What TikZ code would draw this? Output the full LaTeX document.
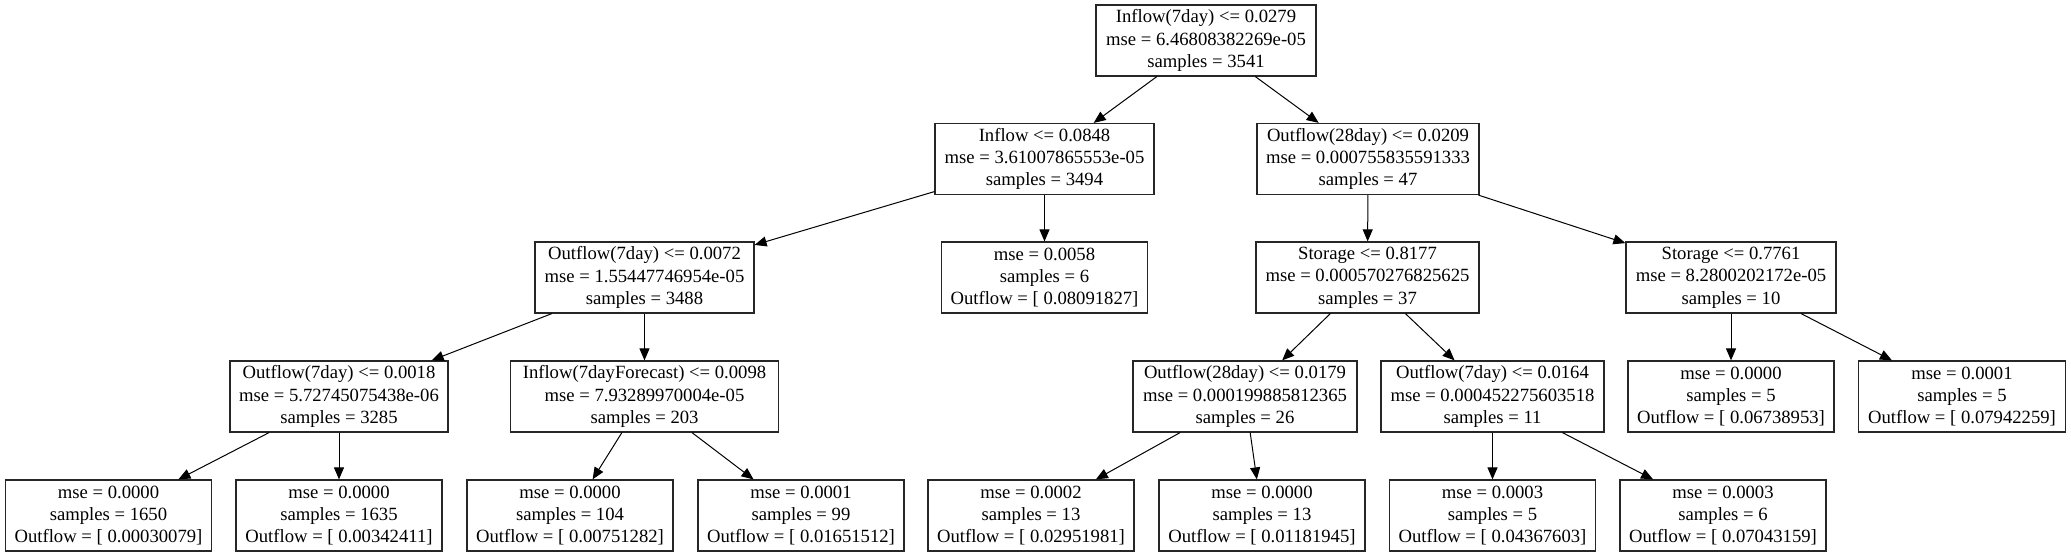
\documentclass[tikz,border=0pt]{standalone}
\usepackage{fontspec}
\setmainfont{Liberation Serif}
\usetikzlibrary{arrows.meta}
\newcommand\tnfont{\fontsize{14}{16.8}\selectfont}
\tikzset{
  tnode/.style={draw=black!85, line width=0.9pt, minimum width=#1*0.75pt, minimum height=53.25pt,
    inner xsep=2pt, inner ysep=0pt, align=center, font=\tnfont},
  tedge/.style={line width=0.75pt, -{Triangle[length=9pt,width=7.5pt]}}
}
\begin{document}
\begin{tikzpicture}[x=0.75pt,y=-0.75pt]
\useasboundingbox (0,0) rectangle (2071,556);
% row 1
\node[tnode=220] (root) at (1206,40.5) {Inflow(7day) <= 0.0279\\mse = 6.46808382269e-05\\samples = 3541};
% row 2
\node[tnode=219] (in) at (1044.5,159) {Inflow <= 0.0848\\mse = 3.61007865553e-05\\samples = 3494};
\node[tnode=222] (oa) at (1368,159) {Outflow(28day) <= 0.0209\\mse = 0.000755835591333\\samples = 47};
% row 3
\node[tnode=219] (o7a) at (644.5,277.5) {Outflow(7day) <= 0.0072\\mse = 1.55447746954e-05\\samples = 3488};
\node[tnode=206] (l58) at (1044.5,277.5) {mse = 0.0058\\samples = 6\\Outflow = [ 0.08091827]};
\node[tnode=223] (s1) at (1367.5,277.5) {Storage <= 0.8177\\mse = 0.000570276825625\\samples = 37};
\node[tnode=210] (s2) at (1731,277.5) {Storage <= 0.7761\\mse = 8.2800202172e-05\\samples = 10};
% row 4
\node[tnode=218] (o7b) at (339,396.5) {Outflow(7day) <= 0.0018\\mse = 5.72745075438e-06\\samples = 3285};
\node[tnode=268] (if) at (644.5,396.5) {Inflow(7dayForecast) <= 0.0098\\mse = 7.93289970004e-05\\samples = 203};
\node[tnode=224] (ob) at (1245,396.5) {Outflow(28day) <= 0.0179\\mse = 0.000199885812365\\samples = 26};
\node[tnode=223] (o7c) at (1492.5,396.5) {Outflow(7day) <= 0.0164\\mse = 0.000452275603518\\samples = 11};
\node[tnode=206] (l5a) at (1731,396.5) {mse = 0.0000\\samples = 5\\Outflow = [ 0.06738953]};
\node[tnode=207] (l5b) at (1962,396.5) {mse = 0.0001\\samples = 5\\Outflow = [ 0.07942259]};
% row 5
\node[tnode=206] (l1) at (108.5,515.5) {mse = 0.0000\\samples = 1650\\Outflow = [ 0.00030079]};
\node[tnode=206] (l2) at (339,515.5) {mse = 0.0000\\samples = 1635\\Outflow = [ 0.00342411]};
\node[tnode=206] (l3) at (570,515.5) {mse = 0.0000\\samples = 104\\Outflow = [ 0.00751282]};
\node[tnode=206] (l4) at (801,515.5) {mse = 0.0001\\samples = 99\\Outflow = [ 0.01651512]};
\node[tnode=206] (l5) at (1031,515.5) {mse = 0.0002\\samples = 13\\Outflow = [ 0.02951981]};
\node[tnode=206] (l6) at (1262,515.5) {mse = 0.0000\\samples = 13\\Outflow = [ 0.01181945]};
\node[tnode=206] (l7) at (1492.5,515.5) {mse = 0.0003\\samples = 5\\Outflow = [ 0.04367603]};
\node[tnode=206] (l8) at (1723,515.5) {mse = 0.0003\\samples = 6\\Outflow = [ 0.07043159]};
% edges
\draw[tedge] (root) -- (in);
\draw[tedge] (root) -- (oa);
\draw[tedge] (in) -- (o7a);
\draw[tedge] (in) -- (l58);
\draw[tedge] (oa) -- (s1);
\draw[tedge] (oa) -- (s2);
\draw[tedge] (o7a) -- (o7b);
\draw[tedge] (o7a) -- (if);
\draw[tedge] (s1) -- (ob);
\draw[tedge] (s1) -- (o7c);
\draw[tedge] (s2) -- (l5a);
\draw[tedge] (s2) -- (l5b);
\draw[tedge] (o7b) -- (l1);
\draw[tedge] (o7b) -- (l2);
\draw[tedge] (if) -- (l3);
\draw[tedge] (if) -- (l4);
\draw[tedge] (ob) -- (l5);
\draw[tedge] (ob) -- (l6);
\draw[tedge] (o7c) -- (l7);
\draw[tedge] (o7c) -- (l8);
\end{tikzpicture}
\end{document}
